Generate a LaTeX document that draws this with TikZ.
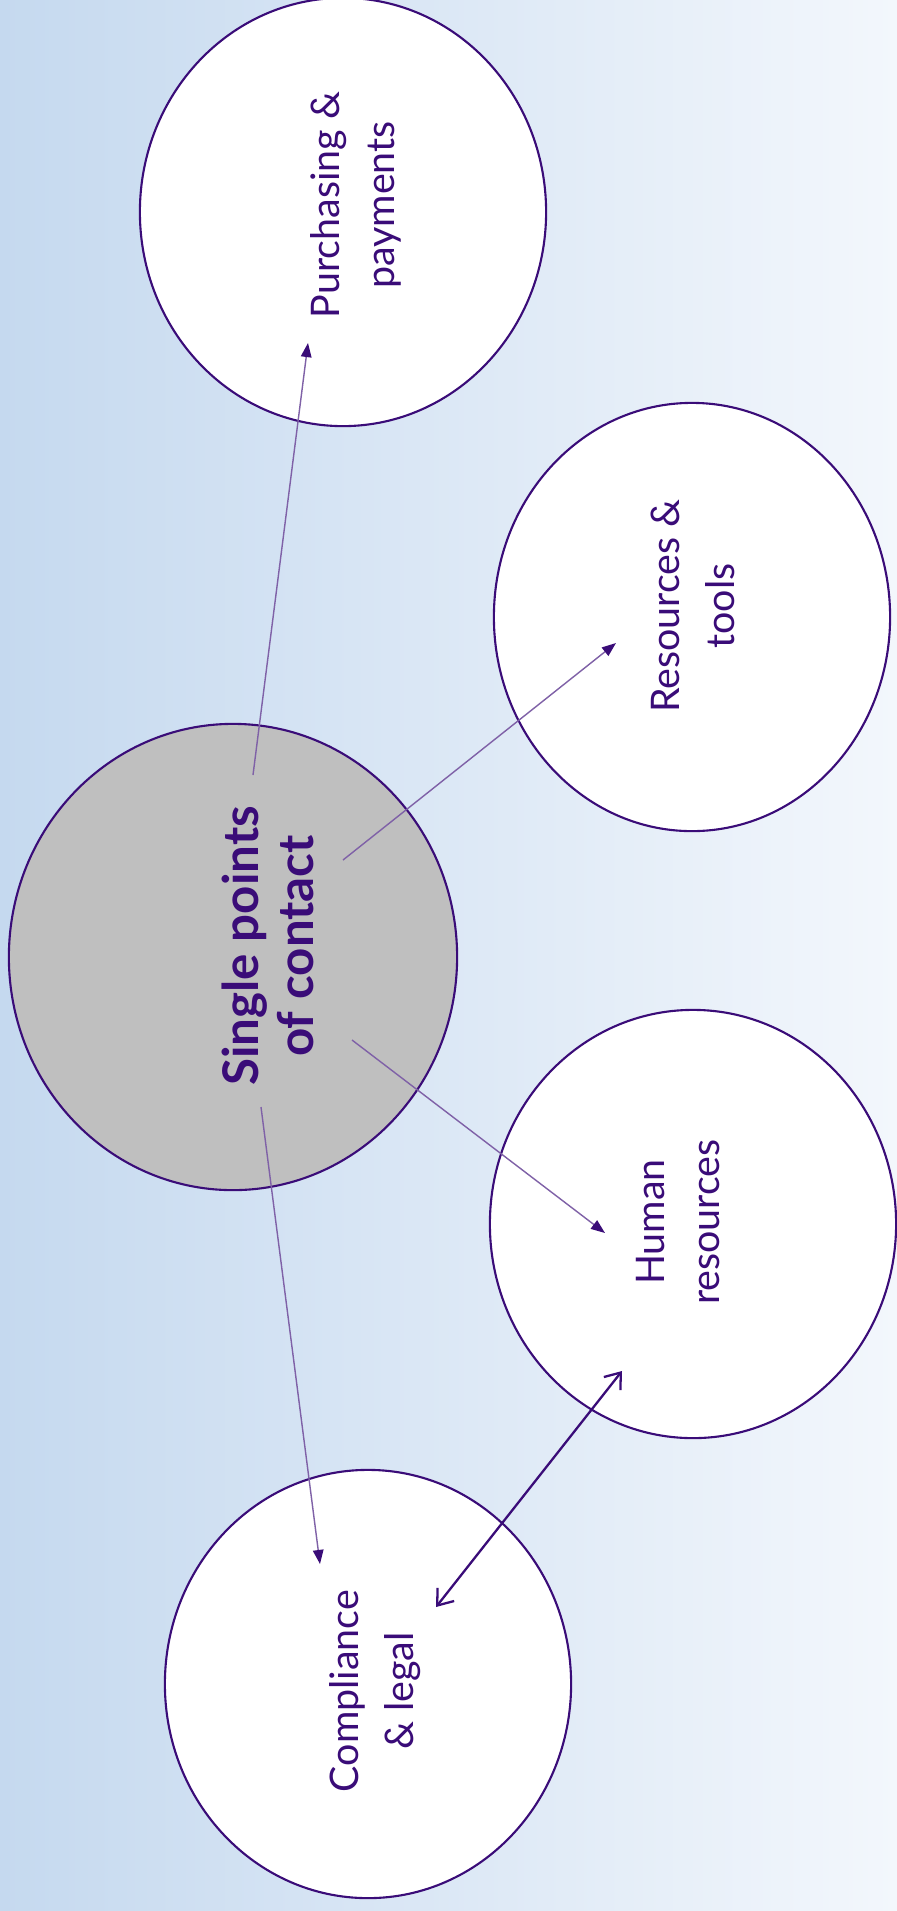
\documentclass[tikz,border=0pt]{standalone}
\usepackage{fontspec}
\setmainfont{Lato}
\usetikzlibrary{arrows.meta,shapes.geometric}
\definecolor{ink}{RGB}{58,12,120}
\definecolor{bgl}{RGB}{197,217,239}
\definecolor{bgr}{RGB}{243,247,252}
\definecolor{grau}{RGB}{191,191,191}
\tikzset{kreis/.style={ellipse,draw=ink,line width=0.6pt,fill=white,inner sep=0pt,minimum width=4.06cm,minimum height=4.28cm},
         mitte/.style={fill=grau,minimum width=4.48cm,minimum height=4.66cm},
         schrift/.style={rotate=90,align=center,text=ink,inner sep=0pt,font=\fontsize{11.2}{15.6}\selectfont},
         pfeil/.style={draw=ink!65,line width=0.4pt,-{Triangle[length=4pt,width=3pt,color=ink]}},
         doppelpfeil/.style={draw=ink,line width=0.65pt,{Straight Barb[length=4pt,width=6pt]}-{Straight Barb[length=4pt,width=6pt]}}}

\begin{document}
\begin{tikzpicture}[x=0.01cm,y=-0.01cm]
    \useasboundingbox (0,0) rectangle (897,1911);
    \shade [left color=bgl,right color=bgr] (0,0) rectangle (897,1911);

    \path node [kreis, mitte] (hub) at (233,957) {}
          node [kreis] (einkauf) at (343,212) {}
          node [kreis, minimum width=3.96cm] (ressourcen) at (692,617) {}
          node [kreis] (personal) at (693,1224) {}
          node [kreis] (recht) at (368,1684) {};

    \path node [schrift, font=\fontsize{14}{15.6}\selectfont\bfseries] (hub-t) at (268,946) {Single points\\of contact}
          node [schrift] (einkauf-t) at (356,205) {Purchasing \&\\payments}
          node [schrift] (ressourcen-t) at (693,606) {Resources \&\\tools}
          node [schrift] (personal-t) at (678,1222) {Human\\resources}
          node [schrift] (recht-t) at (375,1691) {Compliance\\\& legal};

    % arrow ends
    \path coordinate (h1) at (253,775)  coordinate (e1) at (308,343)
          coordinate (h2) at (343,860)  coordinate (r1) at (616,643)
          coordinate (h3) at (352,1040) coordinate (p1) at (605,1233)
          coordinate (h4) at (261,1107) coordinate (c1) at (320,1564)
          coordinate (c2) at (436,1607) coordinate (p2) at (622,1371);

    \draw [pfeil] (h1) -- (e1);
    \draw [pfeil] (h2) -- (r1);
    \draw [pfeil] (h3) -- (p1);
    \draw [pfeil] (h4) -- (c1);
    \draw [doppelpfeil] (c2) -- (p2);
\end{tikzpicture}
\end{document}
